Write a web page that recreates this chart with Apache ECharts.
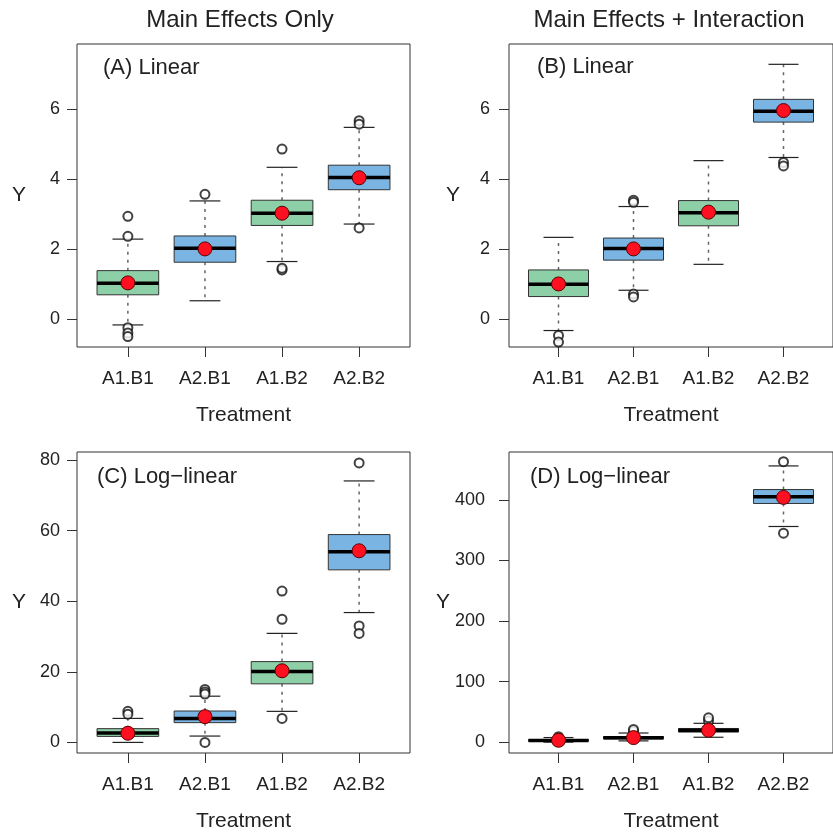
<!DOCTYPE html>
<html>
<head>
<meta charset="utf-8">
<script src="https://cdn.jsdelivr.net/npm/echarts@6/dist/echarts.min.js"></script>
<style>
  html, body { margin: 0; padding: 0; background: #fff; }
  #chart { width: 833px; height: 836px; }
</style>
</head>
<body>
<div id="chart"></div>
<script>
// categories on the x axis of every panel
var treatments = ['A1.B1', 'A2.B1', 'A1.B2', 'A2.B2'];

// each box: [lower whisker, Q1, median, Q3, upper whisker]
var boxesA = [
  [-0.17, 0.69, 1.02, 1.38, 2.28],
  [0.52, 1.62, 2.02, 2.37, 3.37],
  [1.64, 2.67, 3.02, 3.39, 4.33],
  [2.71, 3.69, 4.04, 4.39, 5.47]
];
var meansA = [1.03, 2.0, 3.02, 4.03];
var outliersA = [[1, 2.93], [1, 2.36], [1, -0.25], [1, -0.4], [1, -0.5],
  [2, 3.56], [3, 4.85], [3, 1.4], [3, 1.45], [4, 5.66], [4, 5.56], [4, 2.6]];

var boxesB = [
  [-0.33, 0.64, 0.99, 1.40, 2.33],
  [0.82, 1.68, 2.01, 2.31, 3.21],
  [1.56, 2.66, 3.03, 3.38, 4.52],
  [4.61, 5.62, 5.93, 6.27, 7.27]
];
var meansB = [1.0, 2.0, 3.05, 5.95];
var outliersB = [[1, -0.47], [1, -0.66], [2, 3.39], [2, 3.33], [2, 0.71], [2, 0.63],
  [4, 4.47], [4, 4.37]];

var boxesC = [
  [0, 1.7, 2.7, 3.9, 6.8],
  [1.8, 5.6, 6.8, 8.9, 13.1],
  [8.8, 16.6, 20.1, 22.9, 30.9],
  [36.8, 48.9, 54.0, 58.9, 74.1]
];
var meansC = [2.6, 7.3, 20.3, 54.3];
var outliersC = [[1, 8.8], [1, 8.0], [2, 15.0], [2, 14.3], [2, 13.7], [2, 0],
  [3, 42.9], [3, 34.9], [3, 6.8], [4, 79.2], [4, 33.0], [4, 30.9]];

var boxesD = [
  [0, 1.5, 2.7, 4.0, 7.5],
  [2, 5.2, 7.0, 9.2, 15],
  [8, 16.5, 19.5, 22.5, 31],
  [356, 394, 405, 417, 456]
];
var meansD = [3, 7.4, 19.5, 404];
var outliersD = [[1, 9], [2, 18], [2, 21], [3, 35], [3, 40], [4, 463], [4, 345]];

// y tick labels
var ticksLinear = [0, 2, 4, 6];
var ticksC = [0, 20, 40, 60, 80];
var ticksD = [0, 100, 200, 300, 400];

var boxColors = ['#8dcfa6', '#7ab4e3', '#8dcfa6', '#7ab4e3'];
var textColor = '#222';
var fontFam = '"Liberation Sans", Arial, sans-serif';

function renderBox(params, api) {
  var x = api.value(0);
  var lo = api.coord([x, api.value(1)]);
  var q1 = api.coord([x, api.value(2)]);
  var md = api.coord([x, api.value(3)]);
  var q3 = api.coord([x, api.value(4)]);
  var hi = api.coord([x, api.value(5)]);
  var half = api.size([0.4, 0])[0];
  var cap = half / 2;
  var cx = md[0];
  var dash = {stroke: '#666', lineWidth: 1.5, lineDash: [3, 5]};
  var solid = {stroke: '#222', lineWidth: 1.2};
  return {
    type: 'group',
    children: [
      {type: 'line', shape: {x1: cx, y1: q3[1], x2: cx, y2: hi[1]}, style: dash},
      {type: 'line', shape: {x1: cx, y1: q1[1], x2: cx, y2: lo[1]}, style: dash},
      {type: 'line', shape: {x1: cx - cap, y1: hi[1], x2: cx + cap, y2: hi[1]}, style: solid},
      {type: 'line', shape: {x1: cx - cap, y1: lo[1], x2: cx + cap, y2: lo[1]}, style: solid},
      {type: 'rect', shape: {x: cx - half, y: q3[1], width: half * 2, height: q1[1] - q3[1]},
        style: {fill: boxColors[params.dataIndex], stroke: '#333', lineWidth: 1}},
      {type: 'line', shape: {x1: cx - half, y1: md[1], x2: cx + half, y2: md[1]},
        style: {stroke: '#000', lineWidth: 3.5}}
    ]
  };
}

var grids = [
  {left: 77, top: 44, width: 333, height: 303},
  {left: 509, top: 44, width: 334, height: 303},
  {left: 77, top: 452, width: 333, height: 301},
  {left: 509, top: 452, width: 334, height: 301}
];
var yRanges = [[-0.8, 7.85], [-0.8, 7.85], [-3, 82.3], [-18, 479]];
var yTicks = [ticksLinear, ticksLinear, ticksC, ticksD];
var yLabelMargin = [17, 19, 17, 24];
var yNameGap = [51, 49, 51, 52];
var panels = [
  {boxes: boxesA, means: meansA, outliers: outliersA},
  {boxes: boxesB, means: meansB, outliers: outliersB},
  {boxes: boxesC, means: meansC, outliers: outliersC},
  {boxes: boxesD, means: meansD, outliers: outliersD}
];

var option = {
  animation: false,
  backgroundColor: '#fff',
  grid: grids.map(function (g) {
    return Object.assign({show: true, borderColor: '#333', borderWidth: 1, backgroundColor: 'transparent'}, g);
  }),
  xAxis: grids.map(function (g, i) {
    return {
      type: 'value', gridIndex: i, min: 0.34, max: 4.66,
      name: 'Treatment', nameLocation: 'middle', nameGap: 58,
      nameTextStyle: {color: textColor, fontSize: 21, fontFamily: fontFam},
      axisLine: {show: false, onZero: false},
      splitLine: {show: false},
      axisTick: {show: true, length: 10, customValues: [1, 2, 3, 4], lineStyle: {color: '#333'}},
      axisLabel: {
        customValues: [1, 2, 3, 4], margin: 22, color: textColor, fontSize: 19, fontFamily: fontFam,
        formatter: function (v) { return treatments[Math.round(v) - 1]; }
      }
    };
  }),
  yAxis: grids.map(function (g, i) {
    return {
      type: 'value', gridIndex: i, min: yRanges[i][0], max: yRanges[i][1],
      name: 'Y', nameLocation: 'middle', nameRotate: 0, nameGap: yNameGap[i],
      nameTextStyle: {color: textColor, fontSize: 21, fontFamily: fontFam},
      axisLine: {show: false, onZero: false},
      splitLine: {show: false},
      axisTick: {show: true, length: 10, customValues: yTicks[i], lineStyle: {color: '#333'}},
      axisLabel: {customValues: yTicks[i], margin: yLabelMargin[i], color: textColor, fontSize: 18, fontFamily: fontFam}
    };
  }),
  graphic: [
    {type: 'text', x: 240, y: 20, style: {text: 'Main Effects Only', textAlign: 'center', textVerticalAlign: 'middle', font: '24px ' + fontFam, fill: textColor}},
    {type: 'text', x: 669, y: 20, style: {text: 'Main Effects + Interaction', textAlign: 'center', textVerticalAlign: 'middle', font: '24px ' + fontFam, fill: textColor}},
    {type: 'text', x: 103, y: 68, style: {text: '(A) Linear', textVerticalAlign: 'middle', font: '22px ' + fontFam, fill: textColor}},
    {type: 'text', x: 537, y: 67, style: {text: '(B) Linear', textVerticalAlign: 'middle', font: '22px ' + fontFam, fill: textColor}},
    {type: 'text', x: 97, y: 477, style: {text: '(C) Log\u2212linear', textVerticalAlign: 'middle', font: '22px ' + fontFam, fill: textColor}},
    {type: 'text', x: 530, y: 477, style: {text: '(D) Log\u2212linear', textVerticalAlign: 'middle', font: '22px ' + fontFam, fill: textColor}}
  ],
  series: []
};

panels.forEach(function (p, i) {
  option.series.push({
    type: 'custom', xAxisIndex: i, yAxisIndex: i, renderItem: renderBox,
    data: p.boxes.map(function (b, k) { return [k + 1].concat(b); }),
    z: 2
  });
  option.series.push({
    type: 'scatter', xAxisIndex: i, yAxisIndex: i, symbol: 'circle', symbolSize: 9,
    itemStyle: {color: '#fff', borderColor: '#111', borderWidth: 2},
    data: p.outliers, z: 3
  });
  option.series.push({
    type: 'scatter', xAxisIndex: i, yAxisIndex: i, symbol: 'circle', symbolSize: 14,
    itemStyle: {color: '#ff1020', borderColor: '#5a0000', borderWidth: 1, opacity: 1},
    data: p.means.map(function (m, k) { return [k + 1, m]; }), z: 4
  });
});

var chart = echarts.init(document.getElementById('chart'));
chart.setOption(option);
</script>
</body>
</html>
